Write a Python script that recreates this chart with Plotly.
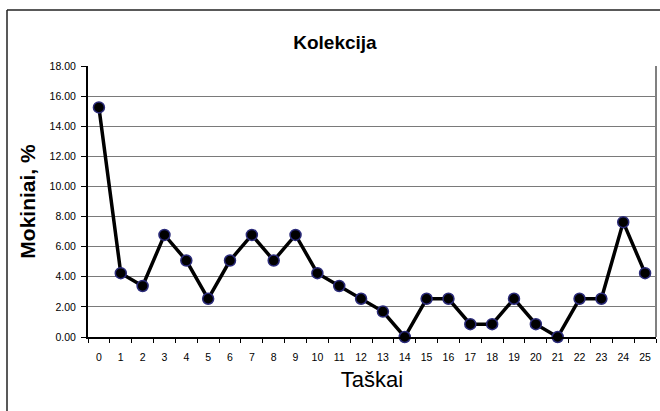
import plotly.graph_objects as go

categories = [str(i) for i in range(26)]
values = [15.25, 4.24, 3.39, 6.78, 5.08, 2.54, 5.08, 6.78, 5.08, 6.78,
          4.24, 3.39, 2.54, 1.69, 0.00, 2.54, 2.54, 0.85, 0.85, 2.54,
          0.85, 0.00, 2.54, 2.54, 7.63, 4.24]
y_ticks = [0, 2, 4, 6, 8, 10, 12, 14, 16, 18]

fig = go.Figure()
fig.add_trace(go.Scatter(
    x=categories, y=values, mode="lines+markers",
    line=dict(color="black", width=3.5),
    marker=dict(color="black", size=11, line=dict(color="#2b2b7a", width=1.5)),
    cliponaxis=False, showlegend=False,
))

fig.update_layout(
    width=660, height=411,
    margin=dict(l=88, r=4, t=66, b=74),
    paper_bgcolor="white", plot_bgcolor="white",
    font=dict(family="Liberation Sans, Arial, sans-serif", color="black"),
    title=dict(text="<b>Kolekcija</b>", x=0.5075, xanchor="center", y=0.897, yanchor="middle",
               font=dict(size=19)),
    xaxis=dict(
        type="category", range=[-0.5, 25.5],
        tickson="boundaries", ticks="outside", ticklen=4, tickcolor="black",
        tickfont=dict(size=10.5), showgrid=False,
        showline=True, linecolor="black", linewidth=2,
        ticklabelstandoff=9,
        title=dict(text="Taškai", font=dict(size=22), standoff=10),
    ),
    yaxis=dict(
        range=[0, 18], tickvals=y_ticks, tickformat=".2f",
        ticks="outside", ticklen=5, tickcolor="black",
        tickfont=dict(size=10.5), showgrid=True, gridcolor="#7a7a7a", gridwidth=1.3,
        showline=True, linecolor="black", linewidth=2, zeroline=False,
        ticklabelstandoff=3,
        title=dict(text="<b>Mokiniai, %</b>", font=dict(size=21), standoff=8),
    ),
    shapes=[
        dict(type="line", xref="paper", yref="paper", x0=1, x1=1, y0=0, y1=1,
             line=dict(color="#808080", width=2)),
        dict(type="line", xref="x domain", yref="y domain", x0=-81/568, x1=1.2,
             y0=1 + 56/271, y1=1 + 56/271, line=dict(color="#222", width=1.5)),
        dict(type="line", xref="x domain", yref="y domain", x0=-81/568, x1=-81/568,
             y0=1 + 56/271, y1=-0.4, line=dict(color="#222", width=1.5)),
    ],
)

fig.write_html("out.html", config={"displayModeBar": False},
               post_script="document.body.style.margin='0';document.body.style.padding='0';")
